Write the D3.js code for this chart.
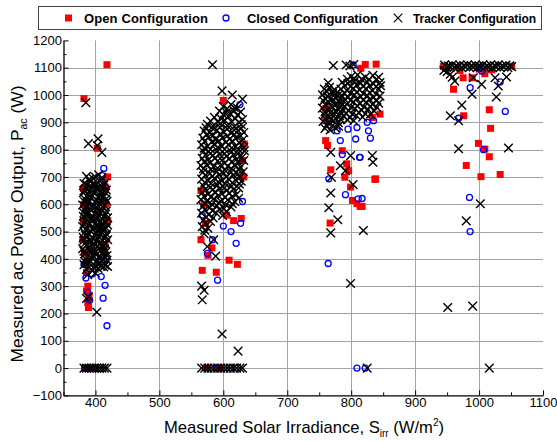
<!DOCTYPE html>
<html>
<head>
<meta charset="utf-8">
<script src="https://cdn.jsdelivr.net/npm/d3@7"></script>
<style>
  body { margin: 0; background: #fff; }
  svg { display: block; font-family: Arial, "Liberation Sans", sans-serif; }
</style>
</head>
<body>
<svg id="chart" width="557" height="441"></svg>
<script>
// tick values
const xTicks = [400, 500, 600, 700, 800, 900, 1000, 1100];
const yTicks = [-100, 0, 100, 200, 300, 400, 500, 600, 700, 800, 900, 1000, 1100, 1200];

// [irradiance W/m2, ac power W]
const openPts = [
  // ~400 W/m2
  [382,987],[418,1111],[403,805],[381,658],[382,600],[381,540],[380,470],[383,420],[384,380],
  [386,350],[388,300],[386,282],[390,265],[388,240],[389,222],[417,600],[419,540],[416,660],
  [419,700],[415,450],[384,0],[392,0],[400,0],
  // ~600 W/m2
  [567,358],[589,351],[576,413],[609,395],[622,380],[628,548],[565,470],[570,600],[565,650],
  [632,700],[630,760],[633,820],[600,980],[572,530],[582,440],[605,560],[616,540],[575,0],[595,0],
  // ~800 W/m2
  [822,1112],[839,1113],[815,1098],[760,833],[763,815],[786,796],[793,748],[796,723],[768,726],
  [790,699],[799,663],[802,614],[809,602],[814,592],[838,693],[767,531],[760,906],[833,918],
  [845,930],[760,950],[837,691],[817,592],
  // ~1000 W/m2
  [944,1105],[1051,1106],[948,1098],[960,1021],[975,1063],[989,1063],[1009,1078],[1016,946],
  [976,924],[1018,878],[999,823],[1009,802],[1016,774],[980,742],[1003,701],[1033,709],
  [970,1090],[1000,1095],[1020,1092]
];

const closedPts = [
  // ~400 W/m2
  [413,731],[411,705],[415,303],[412,256],[418,155],[388,278],[391,248],[385,330],[395,345],
  [409,335],[417,400],[382,380],[383,0],[389,0],[398,0],
  // ~600 W/m2
  [626,965],[620,457],[591,322],[575,420],[612,500],[627,530],[630,610],[600,520],[583,470],
  [567,560],[612,0],[590,0],
  // ~800 W/m2
  [765,906],[778,869],[809,881],[825,900],[835,906],[827,869],[830,842],[807,839],[795,875],
  [783,833],[786,782],[813,772],[765,693],[791,635],[811,620],[764,383],[809,0],[822,0],
  [803,1110],[817,621],[814,772],
  // ~1000 W/m2
  [1004,1088],[986,1027],[1033,1048],[1041,940],[968,915],[1007,800],[985,625],[986,500],[1000,1100]
];

const trackerPts = [
  // ~400 W/m2
  [386,702],[396,695],[405,708],
  [382,676],[391,684],[400,672],[409,688],[415,679],
  [385,658],[394,664],[403,655],[412,661],
  [381,641],[389,636],[398,645],[407,633],[416,642],
  [384,618],[393,625],[402,614],[411,622],[418,611],
  [380,597],[388,604],[397,592],[406,601],[414,596],
  [383,578],[392,583],[401,572],[410,580],[417,575],
  [381,556],[387,562],[396,551],[405,559],[413,553],
  [384,537],[393,542],[400,531],[408,539],[416,534],
  [380,518],[389,522],[398,512],[404,520],[412,515],[419,524],
  [383,497],[392,503],[401,494],[409,500],[417,491],
  [381,478],[387,484],[396,473],[405,481],[413,476],
  [384,458],[393,462],[400,452],[408,459],[416,455],
  [380,437],[389,443],[398,433],[406,440],[414,436],
  [383,418],[392,423],[401,414],[410,421],[418,412],
  [385,398],[394,404],[403,395],[411,401],
  [382,379],[390,384],[399,375],[407,382],[415,377],
  [386,361],[395,356],[404,365],[413,370],
  [388,342],[400,348],
  [390,690],[400,700],[410,697],
  [387,670],[396,676],[405,664],[413,670],
  [382,650],[391,650],[400,658],[409,646],[417,652],
  [386,630],[395,632],[404,626],[413,630],
  [383,609],[391,612],[400,605],[409,610],[416,618],
  [385,590],[394,596],[403,586],[412,590],
  [382,568],[390,570],[399,563],[408,568],[416,564],
  [385,548],[394,552],[402,546],[411,544],[419,550],
  [382,528],[391,530],[402,525],[410,528],[417,512],
  [386,508],[395,510],[404,505],[413,508],
  [384,488],[390,492],[399,486],[408,490],[416,482],
  [382,468],[391,470],[402,466],[411,468],[419,470],
  [386,448],[395,450],[404,446],[412,448],
  [382,428],[391,430],[400,425],[408,430],[416,425],
  [387,408],[396,412],[405,407],[414,410],
  [384,390],[392,392],[401,388],[410,392],[418,395],
  [390,370],[398,366],[409,372],
  [385,972],[404,840],[403,815],[389,822],[410,790],[402,205],[389,260],[419,372],[386,255],
  [382,0],[386,0],[390,0],[394,0],[398,0],[402,0],[406,0],[410,0],[414,0],[418,0],
  // ~600 W/m2
  [600,958],[612,965],[622,952],
  [594,941],[605,936],[616,944],[627,938],
  [586,918],[597,912],[608,921],[619,914],[630,910],
  [575,893],[584,886],[595,895],[606,888],[617,884],[628,892],
  [570,868],[579,862],[590,871],[601,864],[612,860],[623,869],[632,863],
  [568,842],[577,846],[588,836],[599,843],[610,839],[621,847],[630,835],
  [566,818],[575,812],[586,821],[597,814],[608,819],[619,811],[628,817],
  [569,793],[580,787],[591,795],[602,786],[613,792],[624,788],[633,796],
  [567,768],[576,762],[587,770],[598,761],[609,767],[620,763],[629,771],
  [565,742],[574,746],[585,737],[596,744],[607,739],[618,745],[627,736],
  [568,717],[579,712],[590,720],[601,714],[612,718],[623,711],[631,719],
  [566,692],[575,688],[586,695],[597,686],[608,693],[619,689],[628,684],
  [569,667],[580,662],[591,670],[602,661],[613,666],[624,660],
  [567,642],[576,637],[587,645],[598,638],[609,641],[620,635],
  [565,617],[574,612],[585,620],[596,611],[607,616],[618,609],
  [568,592],[579,587],[590,595],[601,584],[612,590],
  [566,567],[577,562],[588,570],[599,559],
  [569,542],[580,537],[567,518],[576,512],[570,492],
  [606,950],[617,954],
  [600,928],[611,930],[622,926],
  [580,905],[591,903],[602,908],[613,902],[624,900],
  [573,880],[584,876],[595,882],[606,876],[617,872],[628,878],
  [574,855],[584,852],[595,857],[606,850],[617,855],[627,851],
  [571,830],[582,828],[593,832],[604,827],[615,830],[625,826],
  [570,805],[580,802],[591,808],[602,801],[613,806],[624,800],[632,808],
  [572,780],[583,777],[594,782],[605,775],[616,780],[626,776],
  [570,755],[580,752],[591,758],[602,750],[613,755],[624,752],[632,760],
  [569,730],[580,728],[591,732],[602,726],[613,730],[624,726],
  [572,705],[583,702],[594,707],[605,700],[616,705],[626,698],
  [571,680],[581,676],[592,682],[603,674],[614,679],[625,674],
  [572,655],[583,652],[594,657],[605,650],[616,654],
  [570,628],[581,626],[592,632],[603,625],[614,628],[624,622],
  [571,604],[582,600],[593,606],[604,598],[614,602],
  [571,580],[583,576],[594,581],[605,572],
  [573,553],[584,550],[572,530],[571,505],
  [583,1111],[598,1015],[614,1000],[630,985],[570,285],[566,300],[575,445],[588,410],
  [598,125],[623,62],[585,470],[567,250],
  [566,0],[571,0],[576,0],[581,0],[586,0],[591,0],[596,0],[601,0],[606,0],[611,0],
  [616,0],[621,0],[626,0],[630,0],
  // ~800 W/m2
  [758,1022],[766,1028],[774,1019],
  [755,1001],[763,996],[771,1005],[779,998],
  [757,978],[765,972],[773,981],[781,975],
  [755,952],[763,947],[771,956],[779,950],
  [758,927],[766,921],[774,930],[782,924],
  [756,903],[764,897],[772,906],[780,899],
  [759,878],[767,872],[775,880],
  [762,1012],[770,1012],[778,1010],[759,988],[767,985],[775,990],[783,986],
  [760,963],[768,960],[776,965],[784,960],[759,938],[767,935],[775,940],[784,936],
  [760,913],[768,910],[776,915],[784,910],[762,888],[771,889],[780,886],
  [800,1068],[810,1074],[822,1066],[834,1072],[843,1065],
  [786,1047],[795,1042],[805,1050],[815,1044],[825,1048],[835,1041],[845,1046],
  [784,1022],[793,1017],[803,1025],[813,1019],[823,1023],[833,1016],[843,1021],
  [786,997],[795,992],[805,1000],[815,994],[825,998],[835,991],[845,996],
  [784,972],[793,967],[803,975],[813,969],[823,973],[833,966],[843,970],
  [786,947],[796,942],[806,950],[816,944],[826,948],[836,941],
  [788,922],[798,917],[808,925],[818,919],
  [794,1058],[805,1060],[816,1058],[828,1057],[839,1056],
  [790,1034],[799,1030],[809,1036],[819,1031],[829,1034],[839,1030],[846,1034],
  [789,1008],[799,1006],[809,1011],[819,1005],[829,1009],[839,1004],
  [790,984],[799,980],[809,986],[819,981],[829,984],[839,980],
  [790,958],[800,955],[810,960],[820,956],[830,959],[840,955],
  [792,934],[802,930],[812,936],[822,932],[830,930],[794,910],[804,906],
  [772,1108],[792,1110],[798,1106],[804,1112],[764,1045],[840,980],
  [768,790],[799,778],[833,778],[834,754],[783,741],[791,723],[769,699],[803,672],[768,641],
  [765,587],[779,543],[768,495],[819,504],[799,310],[825,0],
  // ~1000 W/m2
  [946,1110],[952,1107],[958,1111],[964,1106],[970,1110],[976,1108],[982,1111],[988,1106],
  [994,1110],[1000,1107],[1006,1111],[1012,1106],[1018,1110],[1024,1108],[1030,1111],
  [1036,1106],[1042,1110],[1048,1107],
  [949,1102],[955,1104],[961,1101],[967,1103],[973,1100],[979,1104],[985,1101],[991,1103],
  [997,1100],[1003,1104],[1009,1101],[1015,1103],[1021,1100],[1027,1104],[1033,1101],
  [1039,1103],[1045,1100],[1051,1104],
  [945,1090],[950,1085],[955,1076],[962,1051],[958,1065],[991,1063],[1004,1039],[1025,1063],
  [1030,1033],[1043,1066],[989,1003],[973,963],[1027,993],[955,924],[968,906],[968,803],
  [1046,806],[1002,602],[980,539],[951,222],[990,227],[1016,0]
];

const svg = d3.select('#chart');

const x = d3.scaleLinear().domain([350, 1100]).range([63.5, 543]);
const y = d3.scaleLinear().domain([-100, 1200]).range([395.4, 40.4]);

// grid
const grid = svg.append('g').attr('stroke', '#a3a3a3').attr('stroke-width', 1);
grid.selectAll('line.h')
  .data(yTicks.filter(d => d >= 0 && d <= 1100))
  .join('line')
  .attr('class', 'h')
  .attr('x1', x(350)).attr('x2', x(1100))
  .attr('y1', d => Math.round(y(d)) + 0.5).attr('y2', d => Math.round(y(d)) + 0.5);
grid.selectAll('line.v')
  .data(xTicks.filter(d => d < 1100))
  .join('line')
  .attr('class', 'v')
  .attr('x1', d => Math.round(x(d)) + 0.5).attr('x2', d => Math.round(x(d)) + 0.5)
  .attr('y1', y(1200)).attr('y2', y(-100));

// markers: open first, closed, tracker on top
const pts = svg.append('g');
pts.append('g')
  .selectAll('rect')
  .data(openPts)
  .join('rect')
  .attr('x', d => x(d[0]) - 3.5)
  .attr('y', d => y(d[1]) - 3.5)
  .attr('width', 7).attr('height', 7)
  .attr('fill', '#ff0000');

pts.append('g')
  .selectAll('circle')
  .data(closedPts)
  .join('circle')
  .attr('cx', d => x(d[0]))
  .attr('cy', d => y(d[1]))
  .attr('r', 3)
  .attr('fill', 'none')
  .attr('stroke', '#0000ff')
  .attr('stroke-width', 1.3);

const cross = 'M-4.3,-4.3L4.3,4.3M-4.3,4.3L4.3,-4.3';
pts.append('g')
  .selectAll('path')
  .data(trackerPts)
  .join('path')
  .attr('d', cross)
  .attr('transform', d => `translate(${x(d[0])},${y(d[1])})`)
  .attr('fill', 'none')
  .attr('stroke', '#000')
  .attr('stroke-width', 1.4);

// axes
const fmt = d3.format('d');
svg.append('g')
  .attr('transform', `translate(${x(350)},0)`)
  .call(d3.axisLeft(y).tickValues(yTicks).tickFormat(fmt).tickSize(-5).tickPadding(1.5).tickSizeOuter(0));
svg.append('g')
  .attr('transform', `translate(${x(350)},0)`)
  .call(d3.axisLeft(y).tickValues(d3.range(-50, 1200, 100)).tickSize(-3).tickFormat('').tickSizeOuter(0))
  .select('.domain').remove();

svg.append('g')
  .attr('transform', `translate(0,${y(-100)})`)
  .call(d3.axisBottom(x).tickValues(xTicks).tickFormat(fmt).tickSize(-5).tickPadding(2.5).tickSizeOuter(0));
svg.append('g')
  .attr('transform', `translate(0,${y(-100)})`)
  .call(d3.axisBottom(x).tickValues(d3.range(350, 1100, 100)).tickSize(-3).tickFormat('').tickSizeOuter(0))
  .select('.domain').remove();

svg.selectAll('.tick text').attr('font-size', 13).attr('font-family', 'Arial, "Liberation Sans", sans-serif').attr('fill', '#000');
svg.selectAll('.domain').attr('stroke', '#000').attr('stroke-width', 1.3);
svg.selectAll('.tick line').attr('stroke', '#000');

// axis titles
const xt = svg.append('text')
  .attr('x', 304).attr('y', 433)
  .attr('text-anchor', 'middle')
  .attr('font-size', 16.6);
xt.append('tspan').text('Measured Solar Irradiance, S');
xt.append('tspan').attr('font-size', 10).attr('dy', 4).text('irr');
xt.append('tspan').attr('dy', -4).text(' (W/m');
xt.append('tspan').attr('font-size', 10).attr('dy', -7).text('2');
xt.append('tspan').attr('dy', 7).text(')');

const yt = svg.append('text')
  .attr('transform', 'translate(23,224) rotate(-90)')
  .attr('text-anchor', 'middle')
  .attr('font-size', 17.4);
yt.append('tspan').text('Measured ac Power Output, P');
yt.append('tspan').attr('font-size', 10.5).attr('dy', 4).text('ac');
yt.append('tspan').attr('dy', -4).text(' (W)');

// legend
const lg = svg.append('g');
lg.append('rect')
  .attr('x', 38.5).attr('y', 6.5).attr('width', 503).attr('height', 23)
  .attr('fill', '#fff').attr('stroke', '#444').attr('stroke-width', 1);
lg.append('rect').attr('x', 65).attr('y', 14.5).attr('width', 7).attr('height', 7).attr('fill', '#ff0000');
lg.append('text').attr('x', 84).attr('y', 23).attr('font-size', 13).attr('font-weight', 'bold')
  .attr('textLength', 124).text('Open Configuration');
lg.append('circle').attr('cx', 226).attr('cy', 18).attr('r', 3).attr('fill', 'none')
  .attr('stroke', '#0000ff').attr('stroke-width', 1.3);
lg.append('text').attr('x', 247).attr('y', 23).attr('font-size', 13).attr('font-weight', 'bold')
  .attr('textLength', 131).text('Closed Configuration');
lg.append('path').attr('d', cross).attr('transform', 'translate(398,18)')
  .attr('stroke', '#000').attr('stroke-width', 1.2).attr('fill', 'none');
lg.append('text').attr('x', 413).attr('y', 23).attr('font-size', 12).attr('font-weight', 'bold')
  .attr('textLength', 123).text('Tracker Configuration');
</script>
</body>
</html>
